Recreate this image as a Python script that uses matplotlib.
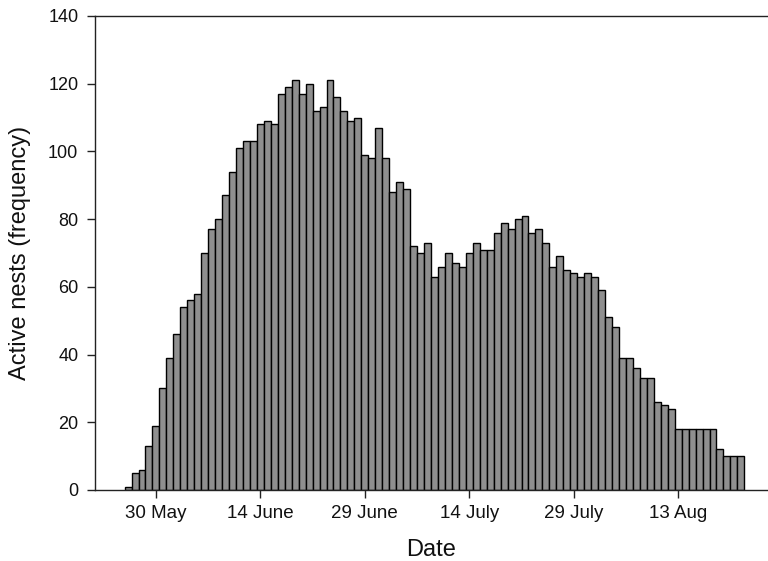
import numpy as np
from matplotlib import pyplot as plt

plt.rcParams['font.family'] = ['Liberation Sans', 'DejaVu Sans']

# days relative to 30 May (first bar = 26 May, last = 22 Aug)
days = np.arange(-4, 85)
active_nests = [
    1, 5, 6, 13, 19, 30, 39, 46, 54, 56, 58, 70,
    77, 80, 87, 94, 101, 103, 103, 108, 109, 108,
    117, 119, 121, 117, 120, 112, 113, 121, 116, 112, 109, 110, 99, 98, 107,
    98, 88, 91, 89, 72, 70, 73,
    63, 66, 70, 67, 66, 70, 73, 71, 71, 76, 79, 77, 80, 81, 76, 77, 73, 66,
    69, 65, 64, 63, 64, 63, 59, 51, 48, 39, 39, 36, 33, 33, 26, 25, 24,
    18, 18, 18, 18, 18, 18, 12, 10, 10, 10,
]
tick_days = [0, 15, 30, 45, 60, 75]
tick_labels = ['30 May', '14 June', '29 June', '14 July', '29 July', '13 Aug']

fig = plt.figure(figsize=(7.68, 5.61), dpi=100)
ax = fig.add_axes([0.1237, 0.1266, 0.8763, 0.8449])

ax.bar(days, active_nests, width=1.0, color='#8f8f8f',
       edgecolor='black', linewidth=1.0)

ax.set_xlim(-8.75, 87.9)
ax.set_ylim(0, 140)
ax.set_yticks(range(0, 141, 20))
ax.set_xticks(tick_days)
ax.set_xticklabels(tick_labels)

ax.spines['right'].set_visible(False)
for s in ['left', 'top', 'bottom']:
    ax.spines[s].set_linewidth(1.0)
    ax.spines[s].set_color('#222222')

ax.tick_params(axis='both', direction='out', length=6, width=1,
               colors='#222222', labelcolor='#111111')
ax.tick_params(axis='y', labelsize=13, pad=6)
ax.tick_params(axis='x', labelsize=13.5, pad=5)

ax.set_xlabel('Date', fontsize=17, labelpad=12, color='#111111')
ax.set_ylabel('Active nests (frequency)', fontsize=17, labelpad=12,
              color='#111111')

fig.savefig('out.png', dpi=100)
